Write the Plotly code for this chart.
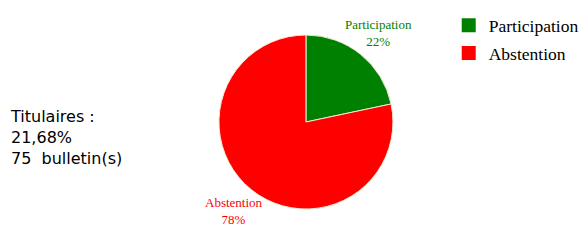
import math
import plotly.graph_objects as go

labels = ["Participation", "Abstention"]
values = [21.68, 78.32]
colors = ["#008000", "#ff0000"]
side_lines = ["Titulaires :", "21,68%", "75  bulletin(s)"]

W, H = 584, 240
CX, CY, R = 307, 122, 87          # pie centre / radius in pixels
LABEL_R = 1.32                    # label distance, in radii

fig = go.Figure()
fig.add_trace(go.Pie(
    labels=labels,
    values=values,
    sort=False,
    direction="clockwise",
    rotation=0,
    marker=dict(colors=colors, line=dict(color="#f4e8d8", width=1)),
    textinfo="none",
    hoverinfo="label+percent",
    showlegend=False,
    domain=dict(x=[(CX - 100) / W, (CX + 100) / W],
                y=[(H - CY - R) / H, (H - CY + R) / H]),
))

# slice labels placed on each slice's bisector
total = sum(values)
cum = 0.0
for lab, val, col in zip(labels, values, colors):
    mid = (cum + val / 2) / total * 2 * math.pi
    cum += val
    px = CX + LABEL_R * R * math.sin(mid)
    py = CY - LABEL_R * R * math.cos(mid)
    fig.add_annotation(
        x=px / W, y=1 - py / H, xref="paper", yref="paper",
        xanchor="center", yanchor="middle", align="center",
        text=f"{lab}<br>{round(val / total * 100)}%", showarrow=False,
        font=dict(family="Liberation Serif", size=13, color=col),
    )

# legend entries (one per category, so the group gap can space them)
for lab, col in zip(labels, colors):
    fig.add_trace(go.Scatter(
        x=[None], y=[None], mode="markers", name=lab,
        legendgroup=lab,
        marker=dict(symbol="square", size=14, color=col),
        hoverinfo="skip",
    ))

fig.add_annotation(
    x=0.0, y=0.429, xref="paper", yref="paper",
    xanchor="left", yanchor="middle", align="left", xshift=8,
    text="<br>".join(side_lines), showarrow=False,
    font=dict(family="DejaVu Sans", size=16, color="#000000"),
)

fig.update_layout(
    width=W, height=H,
    margin=dict(l=0, r=0, t=0, b=0),
    paper_bgcolor="white", plot_bgcolor="white",
    xaxis=dict(visible=False), yaxis=dict(visible=False),
    showlegend=True,
    legend=dict(x=0.771, y=0.969, xanchor="left", yanchor="top",
                font=dict(family="Liberation Serif", size=17.5, color="#000000"),
                itemwidth=30, tracegroupgap=2),
)

fig.write_html("out.html", config={"displayModeBar": False},
               post_script="document.body.style.margin='0';")
